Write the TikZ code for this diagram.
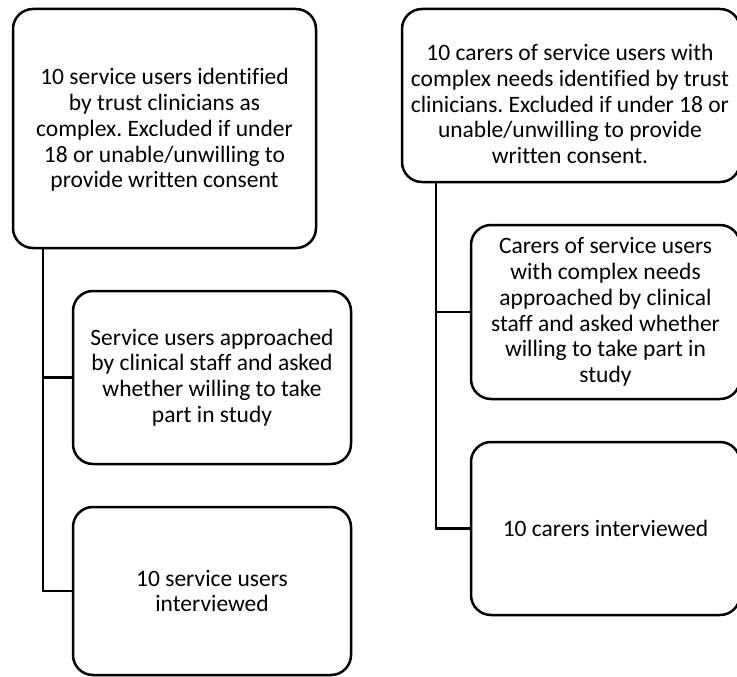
\documentclass[tikz,border=0pt]{standalone}
\usepackage{fontspec}
\setmainfont{Carlito}[Ligatures={NoCommon}]
\frenchspacing
\begin{document}
\begin{tikzpicture}[x=1pt,y=-1pt,
	stagetext/.style={align=center,font=\fontsize{23.5}{25.8}\selectfont},
	stage/.style={stagetext,draw,line width=2.5pt,rounded corners=20pt,inner sep=0pt},
	trunk/.style={line width=2.5pt}]
	\useasboundingbox (0,0) rectangle (737,677);
	\path 
		(164.5,128.5) node[stage,minimum width=303,minimum height=239] (A1) {}
		(164.5,130) node[stagetext] (A1text) {10 service users identified\\by trust clinicians as\\complex. Excluded if under\\18 or unable/unwilling to\\provide written consent}
		(212,377.5) node[stage,minimum width=278,minimum height=173] (A2) {Service users approached\\by clinical staff and asked\\whether willing to take\\part in study}
		(212,591) node[stage,minimum width=278,minimum height=168] (A3) {10 service users\\interviewed}
		(571,95.5) node[stage,minimum width=338,minimum height=173] (B1) {}
		(570,104) node[stagetext] (B1text) {10 carers of service users with\\complex needs identified by trust\\clinicians. Excluded if under 18 or\\unable/unwilling to provide\\written consent.}
		(605.5,312) node[stage,minimum width=269,minimum height=174] (B2) {Carers of service users\\with complex needs\\approached by clinical\\staff and asked whether\\willing to take part in\\study}
		(605.5,528.5) node[stage,minimum width=269,minimum height=173] (B3) {10 carers interviewed}
		;
	\coordinate (aTrunk) at ([xshift=31]A1.south west);
	\coordinate (bTrunk) at ([xshift=35]B1.south west);
		
	\draw[trunk] 
		(aTrunk) |- (A2.west)
		(aTrunk) |- (A3.west)
		(bTrunk) |- (B2.west)
		(bTrunk) |- (B3.west)
	;
\end{tikzpicture}
\end{document}
